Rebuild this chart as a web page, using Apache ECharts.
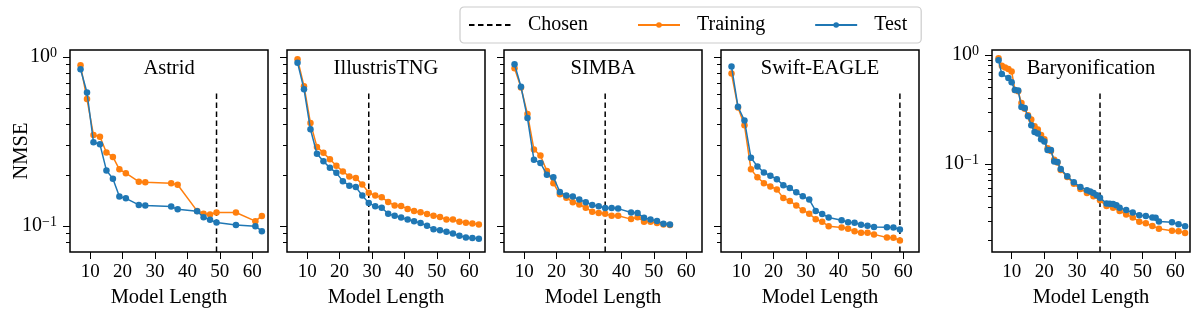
<!DOCTYPE html>
<html>
<head>
<meta charset="utf-8">
<script src="https://cdn.jsdelivr.net/npm/echarts@6/dist/echarts.min.js"></script>
<style>
html, body { margin: 0; padding: 0; background: #fff; }
#chart { width: 1200px; height: 321px; }
</style>
</head>
<body>
<div id="chart"></div>
<script>
const FONT = 'Liberation Serif'
const ORANGE = '#ff7f0e'
const BLUE = '#1f77b4'

const panelNames = ['Astrid', 'IllustrisTNG', 'SIMBA', 'Swift-EAGLE', 'Baryonification']
const chosenLength = [49, 29, 35, 59, 37]
const xTickValues = [10, 20, 30, 40, 50, 60]
const yMajorTicks = [0.1, 1]
const yMinorTicks = [0.08, 0.09, 0.2, 0.3, 0.4, 0.5, 0.6, 0.7, 0.8, 0.9]
const yMinorTicksBary = [0.02, 0.03, 0.04, 0.05, 0.06, 0.07, 0.08, 0.09, 0.2, 0.3, 0.4, 0.5, 0.6, 0.7, 0.8, 0.9]

// Astrid
const astridLength = [7, 9, 11, 13, 15, 17, 19, 21, 25, 27, 35, 37, 43, 45, 47, 49, 55, 61, 63]
const astridTrain = [0.893, 0.563, 0.345, 0.337, 0.272, 0.256, 0.216, 0.205, 0.1825, 0.181, 0.179, 0.175, 0.1226, 0.118, 0.1166, 0.12, 0.12, 0.1066, 0.1145]
const astridTest = [0.846, 0.616, 0.313, 0.304, 0.213, 0.19, 0.149, 0.1456, 0.133, 0.132, 0.13, 0.1254, 0.122, 0.1125, 0.1085, 0.1047, 0.101, 0.0995, 0.093]

// IllustrisTNG
const tngLength = [7, 9, 11, 13, 15, 17, 19, 21, 23, 25, 27, 29, 31, 33, 35, 37, 39, 41, 43, 45, 47, 49, 51, 53, 55, 57, 59, 61, 63]
const tngTrain = [0.969, 0.672, 0.406, 0.2935, 0.2705, 0.248, 0.227, 0.21, 0.196, 0.192, 0.176, 0.157, 0.151, 0.1476, 0.1385, 0.1318, 0.1312, 0.126, 0.1226, 0.1204, 0.1177, 0.1146, 0.113, 0.109, 0.109, 0.1056, 0.1042, 0.1033, 0.1019]
const tngTest = [0.926, 0.645, 0.373, 0.267, 0.2415, 0.2205, 0.206, 0.184, 0.173, 0.17, 0.151, 0.1367, 0.1305, 0.128, 0.118, 0.1146, 0.112, 0.109, 0.1065, 0.104, 0.1, 0.0956, 0.0943, 0.0922, 0.0901, 0.0873, 0.0853, 0.0846, 0.0838]

// SIMBA
const simbaLength = [7, 9, 11, 13, 15, 17, 19, 21, 23, 25, 27, 29, 31, 33, 35, 37, 39, 43, 45, 47, 49, 51, 53, 55]
const simbaTrain = [0.857, 0.66, 0.459, 0.283, 0.261, 0.211, 0.179, 0.1537, 0.1469, 0.138, 0.134, 0.128, 0.121, 0.119, 0.118, 0.1146, 0.1146, 0.1096, 0.1125, 0.1056, 0.1056, 0.104, 0.102, 0.101]
const simbaTest = [0.905, 0.666, 0.435, 0.246, 0.236, 0.2007, 0.1943, 0.1586, 0.151, 0.149, 0.143, 0.138, 0.133, 0.1305, 0.1277, 0.1277, 0.1265, 0.12, 0.119, 0.1115, 0.109, 0.107, 0.1028, 0.102]

// Swift-EAGLE
const swiftLength = [7, 9, 11, 13, 15, 17, 19, 21, 23, 25, 27, 29, 31, 33, 35, 37, 41, 43, 45, 47, 49, 51, 55, 57, 59]
const swiftTrain = [0.798, 0.503, 0.394, 0.216, 0.194, 0.179, 0.171, 0.1644, 0.146, 0.1404, 0.1318, 0.1237, 0.118, 0.1095, 0.1056, 0.0995, 0.0978, 0.096, 0.093, 0.091, 0.091, 0.089, 0.0853, 0.085, 0.082]
const swiftTest = [0.877, 0.507, 0.42, 0.253, 0.225, 0.207, 0.198, 0.189, 0.174, 0.1675, 0.158, 0.1496, 0.143, 0.1226, 0.1177, 0.112, 0.108, 0.105, 0.1042, 0.1014, 0.1, 0.0986, 0.098, 0.0977, 0.0952]

// Baryonification
const baryTrainLength = [6, 7, 8, 9, 10, 11, 12, 13, 14, 15, 16, 17, 18, 19, 20, 21, 22, 23, 24, 25, 27, 29, 31, 33, 35, 37, 39, 41, 43, 45, 47, 49, 51, 53, 55, 59, 61, 63]
const baryTrain = [0.933, 0.794, 0.767, 0.741, 0.705, 0.477, 0.464, 0.361, 0.32, 0.279, 0.255, 0.221, 0.207, 0.184, 0.168, 0.139, 0.131, 0.109, 0.103, 0.088, 0.0757, 0.0657, 0.0588, 0.0541, 0.0505, 0.0464, 0.0409, 0.0396, 0.0369, 0.0343, 0.0322, 0.0294, 0.0284, 0.0269, 0.0254, 0.0243, 0.0241, 0.0232]
const baryTestLength = [6, 7, 9, 10, 11, 12, 13, 14, 15, 16, 17, 18, 19, 20, 21, 22, 23, 24, 25, 27, 29, 31, 33, 34, 35, 36, 37, 39, 40, 41, 42, 43, 45, 47, 49, 51, 53, 54, 55, 59, 61, 63]
const baryTest = [0.895, 0.667, 0.614, 0.56, 0.477, 0.471, 0.332, 0.326, 0.273, 0.226, 0.196, 0.19, 0.168, 0.16, 0.134, 0.134, 0.105, 0.104, 0.0895, 0.0769, 0.0677, 0.0614, 0.0573, 0.0557, 0.0541, 0.0515, 0.0487, 0.0433, 0.043, 0.0428, 0.0416, 0.0396, 0.0376, 0.0357, 0.0337, 0.0332, 0.0322, 0.032, 0.0295, 0.029, 0.0279, 0.0267]

const panels = [
    { trainLen: astridLength, train: astridTrain, testLen: astridLength, test: astridTest },
    { trainLen: tngLength, train: tngTrain, testLen: tngLength, test: tngTest },
    { trainLen: simbaLength, train: simbaTrain, testLen: simbaLength, test: simbaTest },
    { trainLen: swiftLength, train: swiftTrain, testLen: swiftLength, test: swiftTest },
    { trainLen: baryTrainLength, train: baryTrain, testLen: baryTestLength, test: baryTest }
]

// layout
const gridLeft = [70, 287, 504, 721, 992]
const gridTop = 50
const gridW = 198
const gridH = 202
const xRange = [[3.75, 64.9], [3.75, 64.9], [3.75, 64.9], [3.75, 64.9], [4.0, 64.5]]
const yRange = [[0.07, 1.1], [0.07, 1.1], [0.07, 1.1], [0.07, 1.1], [0.0155, 1.11]]

const zip = (xs, ys) => xs.map((x, i) => [x, ys[i]])
const txt = { fontFamily: FONT, fontSize: 20.5, color: '#000' }
const tickTxt = { fontFamily: FONT, fontSize: 19, color: '#000' }

const chart = echarts.init(document.getElementById('chart'), null, { renderer: 'canvas' })

let grids = []
let xAxes = []
let yAxes = []
let series = []
let titles = []

panels.forEach((p, i) => {
    const showY = i === 0 || i === 4
    const [ymin, ymax] = yRange[i]
    grids.push({
        left: gridLeft[i], top: gridTop, width: gridW, height: gridH,
        show: true, borderColor: '#000', borderWidth: 1.5, backgroundColor: 'transparent'
    })
    xAxes.push({
        gridIndex: i, type: 'value', min: xRange[i][0], max: xRange[i][1],
        splitLine: { show: false },
        axisLine: { show: false },
        axisTick: { show: true, length: 7, customValues: xTickValues, lineStyle: { color: '#000', width: 1 } },
        axisLabel: { customValues: xTickValues, margin: 11, ...tickTxt },
        name: 'Model Length', nameLocation: 'middle', nameGap: 30,
        nameTextStyle: txt
    })
    // major ticks + labels
    yAxes.push({
        gridIndex: i, type: 'log', logBase: 10, min: ymin, max: ymax, position: 'left',
        splitLine: { show: false },
        axisLine: { show: false },
        axisTick: { show: true, length: 7, customValues: yMajorTicks, lineStyle: { color: '#000', width: 1 } },
        axisLabel: {
            show: showY, customValues: yMajorTicks, margin: 13,
            formatter: v => {
                const e = Math.round(Math.log10(v))
                return '{b|10}{s|' + (e < 0 ? '\u2212' + (-e) : e) + '}'
            },
            rich: {
                b: { fontFamily: FONT, fontSize: 20, color: '#000', lineHeight: 21 },
                s: { fontFamily: FONT, fontSize: 14, color: '#000', verticalAlign: 'top', lineHeight: 14 }
            }
        },
        name: i === 0 ? 'NMSE' : '', nameLocation: 'middle', nameGap: 38,
        nameMoveOverlap: false,
        nameTextStyle: txt
    })
    // minor ticks
    yAxes.push({
        gridIndex: i, type: 'log', logBase: 10, min: ymin, max: ymax, position: 'left',
        splitLine: { show: false },
        axisLine: { show: false },
        axisTick: { show: true, length: 4, customValues: i === 4 ? yMinorTicksBary : yMinorTicks, lineStyle: { color: '#000', width: 1 } },
        axisLabel: { show: false }
    })

    // dashed marker for the chosen model length, up to 80% of the axes height
    const lo = Math.log10(ymin)
    const hi = Math.log10(ymax)
    const yTop = Math.pow(10, lo + 0.8 * (hi - lo))
    series.push({
        name: 'Chosen', type: 'line', xAxisIndex: i, yAxisIndex: 2 * i,
        data: [[chosenLength[i], ymin], [chosenLength[i], yTop]],
        symbol: 'circle', showSymbol: false, silent: true, z: 1,
        lineStyle: { color: '#000', width: 1.5, type: [5.5, 3.5] },
        itemStyle: { color: 'rgba(0,0,0,0)' }
    })
    series.push({
        name: 'Training', type: 'line', xAxisIndex: i, yAxisIndex: 2 * i,
        data: zip(p.trainLen, p.train),
        symbol: 'circle', symbolSize: 6.5, z: 2,
        lineStyle: { color: ORANGE, width: 1.5 },
        itemStyle: { color: ORANGE }
    })
    series.push({
        name: 'Test', type: 'line', xAxisIndex: i, yAxisIndex: 2 * i,
        data: zip(p.testLen, p.test),
        symbol: 'circle', symbolSize: 6.5, z: 3,
        lineStyle: { color: BLUE, width: 1.5 },
        itemStyle: { color: BLUE }
    })
    titles.push({
        text: panelNames[i], left: gridLeft[i] + gridW / 2, top: 58, textAlign: 'center', padding: 0,
        textStyle: { ...txt, fontWeight: 'normal' }
    })
})

let option = {
    animation: false,
    backgroundColor: '#fff',
    title: titles,
    legend: {
        data: ['Chosen', 'Training', 'Test'],
        left: 460, top: 7,
        padding: [8, 14, 8, 8],
        itemWidth: 42, itemHeight: 7, itemGap: 49,
        backgroundColor: 'rgba(255,255,255,0.8)',
        borderColor: '#cccccc', borderWidth: 1.2, borderRadius: 4,
        textStyle: { fontFamily: FONT, fontSize: 20, color: '#000', padding: [0, 0, 0, 12] }
    },
    grid: grids,
    xAxis: xAxes,
    yAxis: yAxes,
    series: series
}

chart.setOption(option)
</script>
</body>
</html>
